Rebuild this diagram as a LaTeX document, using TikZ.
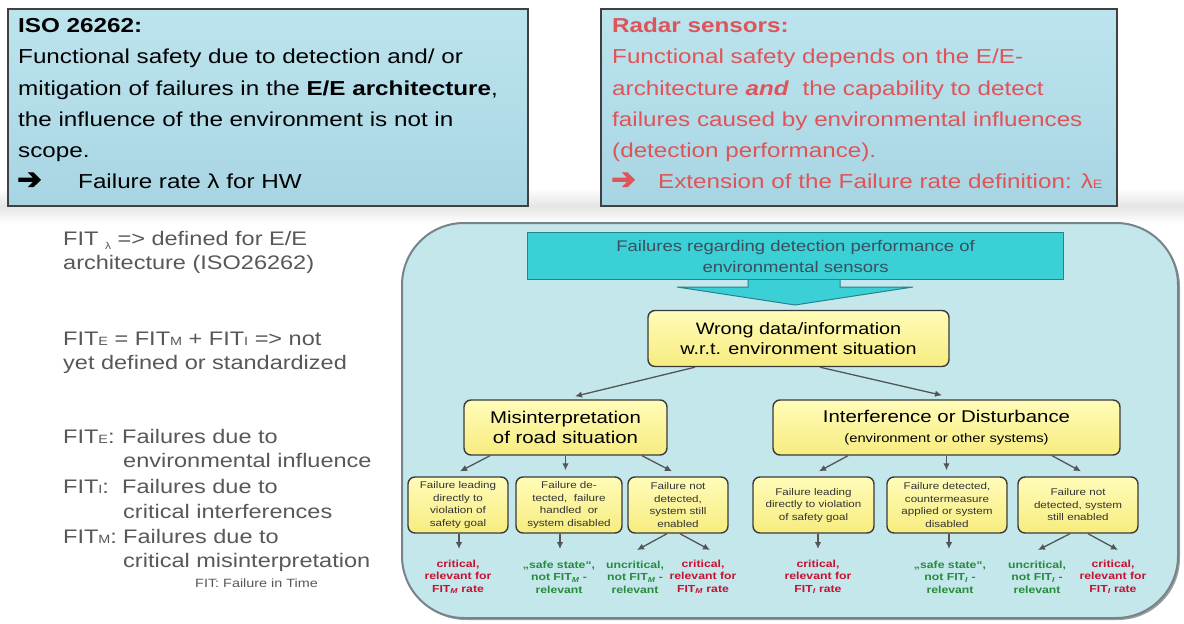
\documentclass[tikz,border=0pt]{standalone}
\usepackage{fontspec}
\setmainfont{Liberation Sans}[FakeStretch=1.2]
\newfontfamily\arrowfont{DejaVu Sans}[FakeBold=3, Scale=1.45]
\usetikzlibrary{arrows.meta,calc,shadows}
\definecolor{boxblue}{RGB}{188,228,238}
\definecolor{boxblueB}{RGB}{168,213,227}
\definecolor{bigfill}{RGB}{196,231,236}
\definecolor{bigdraw}{RGB}{118,132,138}
\definecolor{tealF}{RGB}{58,208,214}
\definecolor{tealD}{RGB}{38,130,140}
\definecolor{yelT}{RGB}{255,252,184}
\definecolor{yelB}{RGB}{247,236,128}
\definecolor{ydraw}{RGB}{58,58,58}
\definecolor{radred}{RGB}{222,84,88}
\definecolor{critred}{RGB}{196,18,50}
\definecolor{okgreen}{RGB}{38,140,58}
\definecolor{lefttxt}{RGB}{88,88,88}
\definecolor{arrgray}{RGB}{85,85,85}
\definecolor{bannertxt}{RGB}{60,78,92}
\newcommand{\smsub}[1]{{\fontsize{12}{12}\selectfont #1}}
\newcommand{\lsub}[1]{\textsubscript{\itshape #1}}
\begin{document}
\begin{tikzpicture}[x=1pt,y=-1pt,
  topbox/.style={draw=black!75, line width=1.5pt, top color=boxblue, bottom color=boxblueB,
    minimum height=197pt, anchor=north west, inner sep=0pt, drop shadow={shadow xshift=1pt, shadow yshift=-1.5pt, opacity=0.35}},
  tl/.style={anchor=base west, inner sep=0pt, font=\fontsize{20.2}{24}\selectfont},
  lt/.style={anchor=base west, inner sep=0pt, text=lefttxt, font=\fontsize{19.6}{24}\selectfont},
  bigbox/.style={draw=bigdraw, line width=2pt, fill=bigfill, rounded corners=62pt, anchor=north west,
    inner sep=0pt, drop shadow={shadow xshift=2pt, shadow yshift=-2pt, opacity=0.55, fill=black!70}},
  banner/.style={draw=tealD, line width=1.2pt, fill=tealF, anchor=north west, inner sep=0pt,
    align=center, text=bannertxt, font=\fontsize{15.4}{21}\selectfont},
  ybox/.style={draw=ydraw, line width=1.4pt, rounded corners=7pt, top color=yelT, bottom color=yelB,
    align=center, inner sep=0pt},
  sbox/.style={ybox, minimum height=56pt, font=\fontsize{9.7}{12.5}\selectfont, text=black!80},
  lab/.style={align=center, inner sep=0pt, font=\bfseries\fontsize{10.2}{12.5}\selectfont},
  arr/.style={draw=arrgray, line width=1.3pt, -{Latex[length=7pt,width=6.5pt]}}
]
\useasboundingbox (0,0) rectangle (1184,624);
\fill[white] (0,0) rectangle (1184,624);
\fill[top color=white, bottom color=white, middle color=black!10] (0,188) rectangle (1184,224);

% ---- top boxes ----
\node[topbox, minimum width=520pt] (isobox) at (7,8) {};
\node[tl] (iso1) at (18,32) {\textbf{ISO 26262:}};
\node[tl] (iso2) at (18,63) {Functional safety due to detection and/ or};
\node[tl] (iso3) at (18,95) {mitigation of failures in the \textbf{E/E architecture},};
\node[tl] (iso4) at (18,126) {the influence of the environment is not in};
\node[tl] (iso5) at (18,157) {scope.};
\node[tl] (iso6a) at (17,189) {\arrowfont ➔};
\node[tl] (iso6b) at (78,188) {Failure rate λ for HW};

\node[topbox, minimum width=516pt] (radbox) at (600,8) {};
\begin{scope}[every node/.append style={text=radred}]
\node[tl] (rad1) at (612,32) {\textbf{Radar sensors:}};
\node[tl] (rad2) at (612,63) {Functional safety depends on the E/E-};
\node[tl] (rad3) at (612,95) {architecture \textbf{\itshape and}\ \ the capability to detect};
\node[tl] (rad4) at (612,126) {failures caused by environmental influences};
\node[tl] (rad5) at (612,157) {(detection performance).};
\node[tl] (rad6a) at (611,189) {\arrowfont ➔};
\node[tl] (rad6b) at (658,188) {Extension of the Failure rate definition: λ\smsub{E}};
\end{scope}

% ---- left text ----
\node[lt] (f1) at (63,245) {FIT\ \raisebox{-4pt}{\fontsize{10}{10}\selectfont λ} => defined for E/E};
\node[lt] (f2) at (63,269) {architecture (ISO26262)};
\node[lt] (f3) at (63,345) {FIT\smsub{E} = FIT\smsub{M} + FIT\smsub{I} => not};
\node[lt] (f4) at (63,369) {yet defined or standardized};
\node[lt] (f5a) at (63,443) {FIT\smsub{E}:};
\node[lt] (f5b) at (122,443) {Failures due to};
\node[lt] (f6) at (123,467) {environmental influence};
\node[lt] (f7a) at (63,493) {FIT\smsub{I}:};
\node[lt] (f7b) at (122,493) {Failures due to};
\node[lt] (f8) at (123,518) {critical interferences};
\node[lt] (f9a) at (63,543) {FIT\smsub{M}:};
\node[lt] (f9b) at (123,543) {Failures due to};
\node[lt] (f10) at (123,567) {critical misinterpretation};
\node[lt, font=\fontsize{12}{14}\selectfont] (f11) at (195,587) {FIT: Failure in Time};

% ---- panel ----
\node[bigbox, minimum width=776pt, minimum height=395pt] (panel) at (401,222) {};
\fill[tealF, draw=tealD, line width=1pt] (748,276) -- (748,287) -- (677,287) -- (795,305) -- (913,287) -- (840,287) -- (840,276) -- cycle;
\node[banner, minimum width=536pt, minimum height=47pt] (banner) at (527,232)
  {Failures regarding detection performance of\\environmental sensors};

\node[ybox, minimum width=301pt, minimum height=56pt, font=\fontsize{16.5}{20}\selectfont] (wrong) at (798.5,338.5)
  {Wrong data/information\\w.r.t. environment situation};
\node[ybox, minimum width=203pt, minimum height=55pt, font=\fontsize{17}{20}\selectfont] (mis) at (565.5,427.5)
  {Misinterpretation\\of road situation};
\node[ybox, minimum width=347pt, minimum height=55pt, font=\fontsize{17}{20}\selectfont] (int) at (946.5,427.5)
  {Interference or Disturbance\\{\fontsize{12.3}{18}\selectfont (environment or other systems)}};

\node[sbox, minimum width=100pt] (b1) at (458,505) {Failure leading\\directly to\\violation of\\safety goal};
\node[sbox, minimum width=106pt] (b2) at (569,505) {Failure de-\\tected,\ \ failure\\handled\ \ or\\system disabled};
\node[sbox, minimum width=100pt] (b3) at (678,505) {Failure not\\detected,\\system still\\enabled};
\node[sbox, minimum width=121pt] (b4) at (813.5,505) {Failure leading\\directly to violation\\of safety goal};
\node[sbox, minimum width=120pt] (b5) at (947,505) {Failure detected,\\countermeasure\\applied or system\\disabled};
\node[sbox, minimum width=120pt] (b6) at (1078,505) {Failure not\\detected, system\\still enabled};

\node[lab, text=critred] (l1) at (458,577) {critical,\\relevant for\\FIT\lsub{M} rate};
\node[lab, text=okgreen] (l2) at (559,577) {„safe state“,\\not FIT\lsub{M} -\\relevant};
\node[lab, text=okgreen] (l3a) at (635,577) {uncritical,\\not FIT\lsub{M} -\\relevant};
\node[lab, text=critred] (l3b) at (703,577) {critical,\\relevant for\\FIT\lsub{M} rate};
\node[lab, text=critred] (l4) at (818,577) {critical,\\relevant for\\FIT\lsub{I} rate};
\node[lab, text=okgreen] (l5) at (950,577) {„safe state“,\\not FIT\lsub{I} -\\relevant};
\node[lab, text=okgreen] (l6a) at (1037,577) {uncritical,\\not FIT\lsub{I} -\\relevant};
\node[lab, text=critred] (l6b) at (1113,577) {critical,\\relevant for\\FIT\lsub{I} rate};

% ---- connectors ----
\draw[arr] ([xshift=-103.5pt]wrong.south) -- ([xshift=9.5pt,yshift=3pt]mis.north);
\draw[arr] ([xshift=21.5pt]wrong.south) -- ([xshift=-4.5pt,yshift=4pt]int.north);

\draw[arr] ([xshift=-75.5pt]mis.south) -- ([xshift=2pt,yshift=5pt]b1.north);
\draw[arr] (mis.south) -- ([yshift=6pt]mis.south |- b2.north);
\draw[arr] ([xshift=76.5pt]mis.south) -- ([xshift=-6pt,yshift=5pt]b3.north);

\draw[arr] ([xshift=-98.5pt]int.south) -- ([xshift=5.5pt,yshift=5pt]b4.north);
\draw[arr] (int.south) -- ([yshift=6pt]int.south |- b5.north);
\draw[arr] ([xshift=105.5pt]int.south) -- ([xshift=3pt,yshift=5pt]b6.north);

\coordinate (e1) at (459,549);
\coordinate (e2) at (560,549);
\coordinate (e3a) at (637,550);
\coordinate (e3b) at (710,550);
\coordinate (e4) at (818,549);
\coordinate (e5) at (949,549);
\coordinate (e6a) at (1038,550);
\coordinate (e6b) at (1118,550);
\draw[arr] (b1.south -| e1) -- (e1);
\draw[arr] (b2.south -| e2) -- (e2);
\draw[arr] ([xshift=-11pt]b3.south) -- (e3a);
\draw[arr] ([xshift=2pt]b3.south) -- (e3b);
\draw[arr] (b4.south -| e4) -- (e4);
\draw[arr] (b5.south -| e5) -- (e5);
\draw[arr] ([xshift=-8pt]b6.south) -- (e6a);
\draw[arr] ([xshift=10pt]b6.south) -- (e6b);
\end{tikzpicture}
\end{document}
